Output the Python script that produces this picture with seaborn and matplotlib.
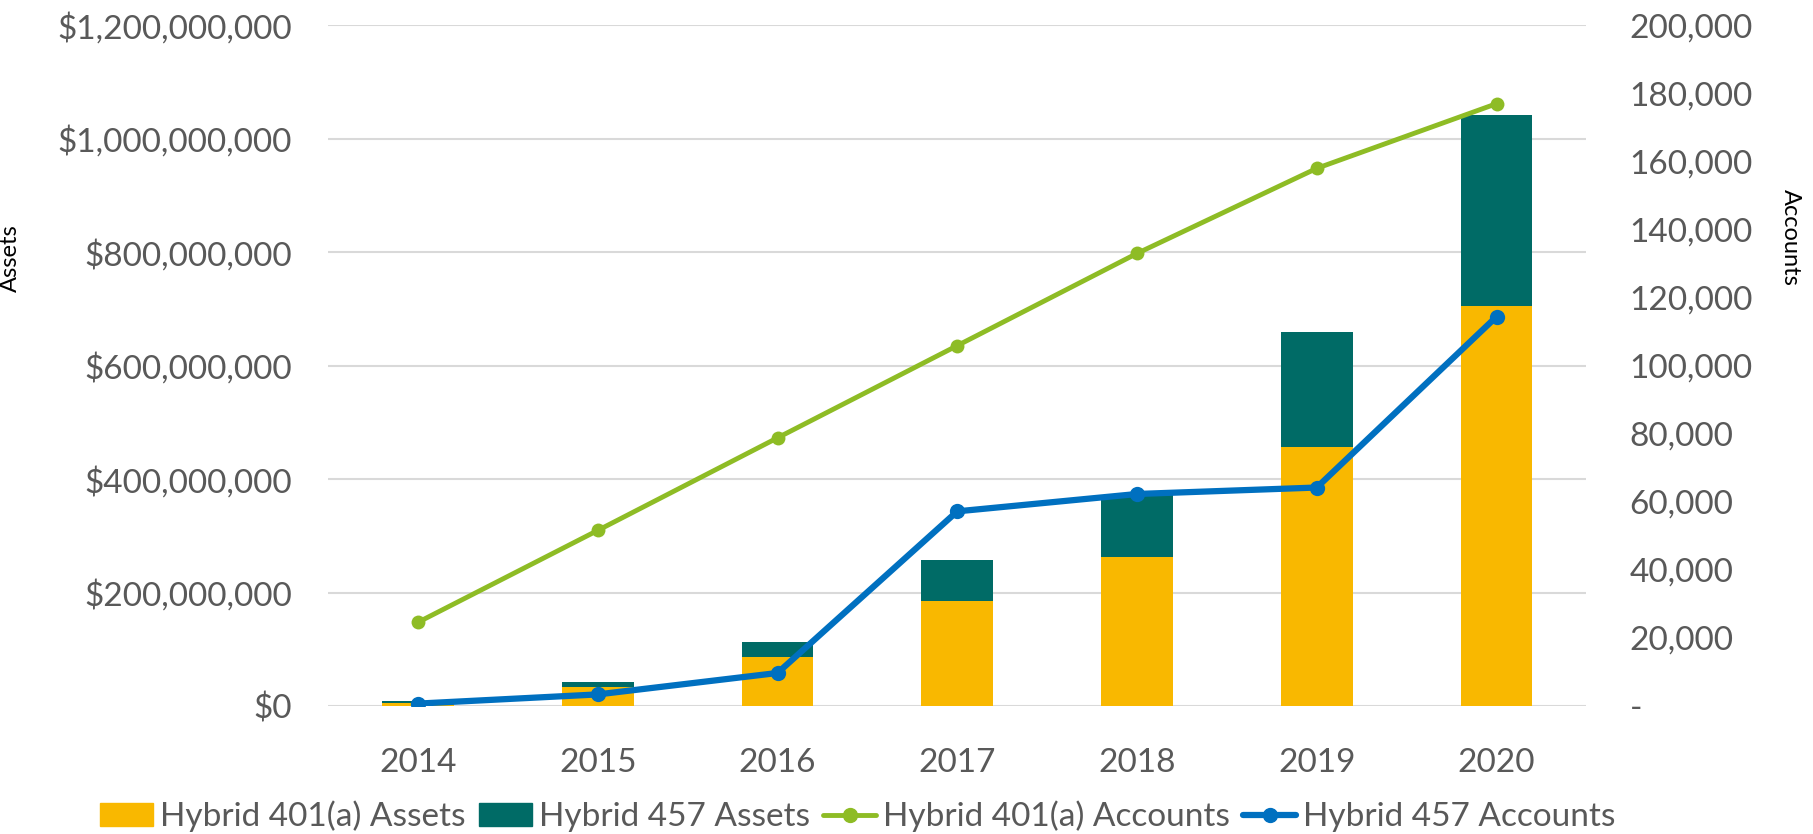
import matplotlib
matplotlib.use("Agg")
import matplotlib.pyplot as plt
import seaborn as sns
import pandas as pd
from matplotlib.ticker import FuncFormatter
from matplotlib.patches import Patch
from matplotlib.lines import Line2D

years = ["2014", "2015", "2016", "2017", "2018", "2019", "2020"]
assets_401a = [6e6, 33.5e6, 86e6, 185e6, 262e6, 456e6, 705e6]
assets_457 = [2e6, 8e6, 27e6, 72e6, 110e6, 203e6, 337e6]
accounts_401a = [24600, 51600, 78800, 105900, 133000, 158000, 177000]
accounts_457 = [700, 3400, 9700, 57200, 62300, 64200, 114400]

c401a_bar = "#F9B800"
c457_bar = "#006B66"
c401a_line = "#8EBC25"
c457_line = "#0070C0"
tick_col = "#595959"

sns.set_style("white")
plt.rcParams['font.family'] = ['Lato', 'DejaVu Sans']

df = pd.DataFrame({"year": years, "a401": assets_401a, "a457": assets_457,
                   "n401": accounts_401a, "n457": accounts_457})
df["total"] = df["a401"] + df["a457"]

fig, ax = plt.subplots(figsize=(18.13, 8.34), dpi=100)
fig.subplots_adjust(left=0.181, right=0.875, top=0.9695, bottom=0.1535)

# stacked bars: total (457 on top) first, then 401(a) over it
sns.barplot(data=df, x="year", y="total", color=c457_bar, width=0.4,
            saturation=1, linewidth=0, ax=ax, zorder=2)
sns.barplot(data=df, x="year", y="a401", color=c401a_bar, width=0.4,
            saturation=1, linewidth=0, ax=ax, zorder=3)

ax.set_ylim(0, 1.2e9)
ax.set_yticks([i * 2e8 for i in range(7)])
ax.yaxis.set_major_formatter(FuncFormatter(lambda v, p: "${:,.0f}".format(v)))
ax.grid(axis="y", color="#D9D9D9", linewidth=1.5, zorder=0)
ax.set_axisbelow(True)
for s in ax.spines.values():
    s.set_visible(False)
ax.set_xlabel("")
ax.set_ylabel("Assets", fontsize=17, color="black")
ax.yaxis.set_label_coords(-0.244, 0.658)
ax.tick_params(axis="both", labelsize=24, colors=tick_col, length=0)
ax.tick_params(axis="x", pad=30)
ax.tick_params(axis="y", pad=26)

ax2 = ax.twinx()
sns.lineplot(data=df, x="year", y="n401", color=c401a_line, linewidth=3.5,
             marker="o", markersize=10, markeredgewidth=0, sort=False, ax=ax2)
sns.lineplot(data=df, x="year", y="n457", color=c457_line, linewidth=4.5,
             marker="o", markersize=11, markeredgewidth=0, sort=False, ax=ax2)
ax2.set_ylim(0, 200000)
ax2.set_yticks(range(0, 200001, 20000))
ax2.yaxis.set_major_formatter(FuncFormatter(lambda v, p: "-" if v == 0 else "{:,.0f}".format(v)))
ax2.tick_params(axis="y", labelsize=24, colors=tick_col, length=0, pad=31)
ax2.set_ylabel("Accounts", fontsize=17, color="black", rotation=270, va="center")
ax2.yaxis.set_label_coords(1.162, 0.688)
for s in ax2.spines.values():
    s.set_visible(False)
ax2.grid(False)
ax.set_xlim(-0.5, 6.5)

handles = [Patch(color=c401a_bar), Patch(color=c457_bar),
           Line2D([], [], color=c401a_line, lw=3.5, marker="o", ms=10),
           Line2D([], [], color=c457_line, lw=4.5, marker="o", ms=10)]
labels = ["Hybrid 401(a) Assets", "Hybrid 457 Assets",
          "Hybrid 401(a) Accounts", "Hybrid 457 Accounts"]
leg = fig.legend(handles, labels, loc="center", bbox_to_anchor=(0.473, 0.021),
                 ncol=4, frameon=False, fontsize=24, handlelength=1.6,
                 handletextpad=0.2, columnspacing=0.4)
for t in leg.get_texts():
    t.set_color(tick_col)

plt.savefig("out.png", dpi=100)
